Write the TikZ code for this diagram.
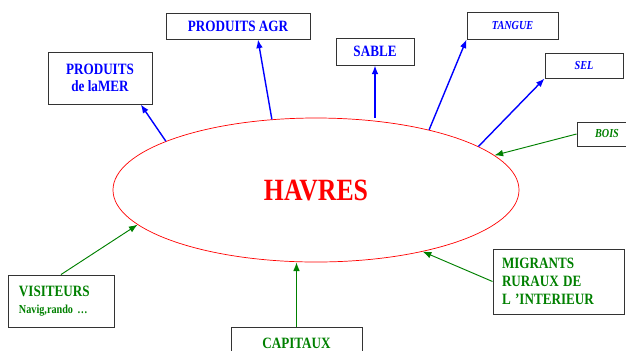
\documentclass[tikz,border=0pt]{standalone}
\usepackage{fontspec}
\setmainfont{Liberation Serif}
\usetikzlibrary{arrows.meta,shapes.geometric}
\newcommand{\tall}[1]{\scalebox{1}[1.2]{#1}}

\begin{document}
\begin{tikzpicture}[x=0.03cm,y=-0.03cm,
    box/.style={draw=black!80, line width=0.8pt, inner sep=0pt, font=\bfseries\fontsize{11.2}{15}\selectfont},
    small/.style={font=\bfseries\itshape\fontsize{8.7}{10}\selectfont},
    outflow/.style={-{Latex[length=2.6mm,width=2mm]}, blue, line width=1.2pt},
    inflow/.style={-{Latex[length=2.6mm,width=2mm]}, green!50!black, line width=0.8pt}]
  \useasboundingbox (0,0) rectangle (626,350);

  % Havre
  \node[ellipse, draw=red, line width=0.6pt, inner sep=0pt, minimum width=12.18cm, minimum height=4.32cm,
        text=red, font=\bfseries\fontsize{22}{26}\selectfont] (havres) at (316,190) {\tall{HAVRES}};

  % Sorties
  \node[box, text=blue, align=center, minimum width=3.12cm, minimum height=1.56cm, font=\bfseries\fontsize{11.2}{14}\selectfont] (mer) at (100,78)
    {\tall{PRODUITS}\\\tall{de laMER}};
  \node[box, text=blue, minimum width=4.32cm, minimum height=0.78cm] (agr) at (238,26) {\tall{PRODUITS AGR}};
  \node[box, text=blue, minimum width=2.34cm, minimum height=0.81cm] (sable) at (375,51.5) {\tall{SABLE}};
  \node[box, small, text=blue, minimum width=2.73cm, minimum height=0.81cm] (tangue) at (512.5,25.5) {\tall{TANGUE}};
  \node[box, small, text=blue, minimum width=2.34cm, minimum height=0.75cm] (sel) at (584,65.5) {\tall{SEL}};

  % Entrees
  \node[box, small, text=green!50!black, minimum width=1.8cm, minimum height=0.72cm] (bois) at (607,134) {\tall{BOIS}};
  \node[box, text=green!50!black, align=left, inner xsep=0.33cm, text width=2.52cm, minimum height=1.56cm] (visit) at (61,301)
    {\tall{VISITEURS}\\{\fontsize{8.7}{10}\selectfont\tall{Navig,rando …}}};
  \node[box, text=green!50!black, minimum width=3.93cm, minimum height=0.96cm] (capit) at (296.5,343) {\tall{CAPITAUX}};
  \node[box, text=green!50!black, align=left, inner xsep=0.27cm, text width=3.39cm, minimum height=1.95cm,
        font=\bfseries\fontsize{11.2}{15.3}\selectfont] (migr) at (558.5,281.5)
    {\tall{MIGRANTS}\\\tall{RURAUX DE}\\\tall{L 'INTERIEUR}};

  % Fleches sortantes
  \draw[outflow] (havres.162.7) -- (mer.-33.4);
  \draw[outflow] (havres.122) -- (agr.-34);
  \draw[outflow] (sable.south |- havres.north) -- (sable.south);
  \draw[outflow] (havres.28.6) -- (tangue.south west);
  \draw[outflow] (havres.15.7) -- (sel.south west);

  % Fleches entrantes
  \draw[inflow] (bois.west) -- (havres.11.1);
  \draw[inflow] (migr.west) -- (havres.-30.9);
  \draw[inflow] (capit.north) -- (capit.north |- havres.south);
  \draw[inflow] (visit.north) -- (havres.-169.4);

\end{tikzpicture}
\end{document}
